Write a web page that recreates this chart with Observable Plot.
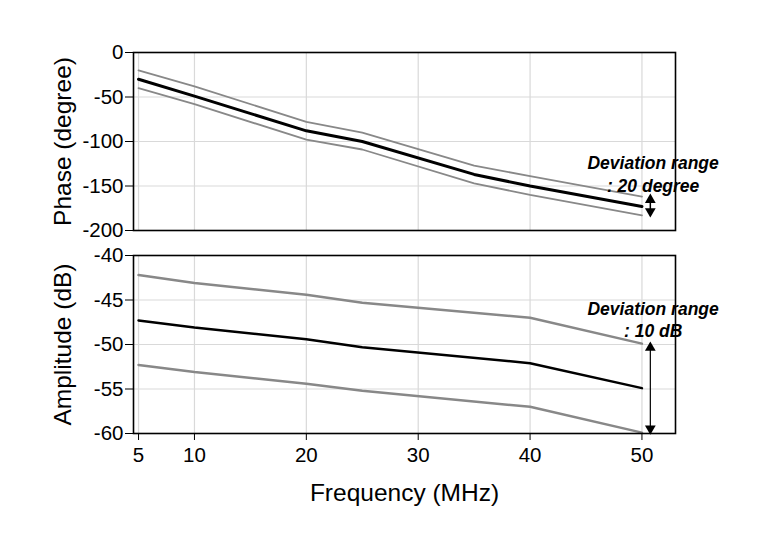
<!DOCTYPE html>
<html><head><meta charset="utf-8">
<script src="https://cdn.jsdelivr.net/npm/d3@7"></script>
<script src="https://cdn.jsdelivr.net/npm/@observablehq/plot@0.6"></script>
<style>
body{margin:0;background:#fff;font-family:"Liberation Sans",Arial,sans-serif;}
#chart{width:758px;height:544px;overflow:hidden}
#chart svg{display:block}
</style></head>
<body><div id="chart"></div>
<script>
const freqTicks = [5, 10, 20, 30, 40, 50];
// Phase (degree)
const phaseFreq = [5, 10, 20, 25, 35, 40, 50];
const phaseMid = [-30, -49, -88, -100, -137, -150, -173];
const phaseUpper = [-20, -38, -78, -90, -127, -139, -162];
const phaseLower = [-40, -58, -98, -109, -147, -160, -183];
const phaseTicks = [0, -50, -100, -150, -200];
// Amplitude (dB)
const ampFreq = [5, 10, 20, 25, 40, 50];
const ampMid = [-47.3, -48.1, -49.4, -50.3, -52.1, -54.9];
const ampUpper = [-42.2, -43.1, -44.4, -45.3, -47.0, -49.9];
const ampLower = [-52.3, -53.1, -54.4, -55.2, -57.0, -59.9];
const ampTicks = [-40, -45, -50, -55, -60];
// annotations
const phaseNote = [{x: 51, y: -125, t: "Deviation range"}, {x: 51, y: -150, t: ": 20 degree"}];
const phaseArrow = [{x: 50.75, y1: -161, y2: -183}];
const ampNote = [{x: 51, y: -46.1, t: "Deviation range"}, {x: 51, y: -48.5, t: ": 10 dB"}];
const ampArrow = [{x: 50.75, y1: -49.9, y2: -59.9}];

const toRows = (xs, ys) => xs.map((x, i) => ({x, y: ys[i]}));
const fmt = d => String(d);
const W = 758;
const xDomain = [4.55, 53];
const ML = 133, MR = 83;
const TICK_FS = 20.5, LABEL_FS = 24.5, NOTE_FS = 17.5;
const FONT = "Liberation Sans, Arial, sans-serif";

function arrowMarks(data, sw) {
  return [
    Plot.link(data, {x1: "x", x2: "x", y1: "y1", y2: "y2", stroke: "black", strokeWidth: sw}),
    Plot.dot(data, {x: "x", y: "y1", symbol: "triangle", r: 4, fill: "black", stroke: "none", dy: 4}),
    Plot.dot(data, {x: "x", y: "y2", symbol: "triangle", r: 4, fill: "black", stroke: "none", rotate: 180, dy: -4})
  ];
}

const topPlot = Plot.plot({
  width: W, height: 240,
  marginLeft: ML, marginRight: MR, marginTop: 52, marginBottom: 10,
  style: {fontFamily: FONT, fontSize: TICK_FS + "px", background: "white", color: "black", overflow: "visible"},
  x: {domain: xDomain, axis: null},
  y: {domain: [-200, 0], axis: null},
  marks: [
    Plot.gridX(freqTicks, {stroke: "#d9d9d9", strokeOpacity: 1, strokeWidth: 1.2}),
    Plot.gridY([-50, -100, -150], {stroke: "#d9d9d9", strokeOpacity: 1, strokeWidth: 1.2}),
    Plot.axisY(phaseTicks, {tickFormat: fmt, tickSize: 8, tickPadding: 2, fontSize: TICK_FS, label: "Phase (degree)", labelAnchor: "center", labelOffset: 80, labelArrow: "none"}),
    Plot.line(toRows(phaseFreq, phaseUpper), {x: "x", y: "y", stroke: "#888", strokeWidth: 1.8}),
    Plot.line(toRows(phaseFreq, phaseLower), {x: "x", y: "y", stroke: "#888", strokeWidth: 1.8}),
    Plot.line(toRows(phaseFreq, phaseMid), {x: "x", y: "y", stroke: "black", strokeWidth: 3}),
    ...arrowMarks(phaseArrow, 1.5),
    Plot.text(phaseNote, {x: "x", y: "y", text: "t", fontSize: NOTE_FS, fontWeight: "bold", fontStyle: "italic", textAnchor: "middle", fill: "black"}),
    Plot.frame({stroke: "black", strokeWidth: 1.6})
  ]
});

const bottomPlot = Plot.plot({
  width: W, height: 304,
  marginLeft: ML, marginRight: MR, marginTop: 15, marginBottom: 111,
  style: {fontFamily: FONT, fontSize: TICK_FS + "px", background: "white", color: "black", overflow: "visible"},
  x: {domain: xDomain},
  y: {domain: [-60, -40]},
  marks: [
    Plot.gridX(freqTicks, {stroke: "#d9d9d9", strokeOpacity: 1, strokeWidth: 1.2}),
    Plot.gridY([-45, -50, -55], {stroke: "#d9d9d9", strokeOpacity: 1, strokeWidth: 1.2}),
    Plot.axisY(ampTicks, {tickFormat: fmt, tickSize: 8, tickPadding: 2, fontSize: TICK_FS, label: "Amplitude (dB)", labelAnchor: "center", labelOffset: 80, labelArrow: "none"}),
    Plot.axisX(freqTicks, {tickFormat: fmt, tickSize: 7, tickPadding: 7, fontSize: TICK_FS, label: "Frequency (MHz)", labelAnchor: "center", labelOffset: 67, labelArrow: "none"}),
    Plot.line(toRows(ampFreq, ampUpper), {x: "x", y: "y", stroke: "#888", strokeWidth: 2.5}),
    Plot.line(toRows(ampFreq, ampLower), {x: "x", y: "y", stroke: "#888", strokeWidth: 2.5}),
    Plot.line(toRows(ampFreq, ampMid), {x: "x", y: "y", stroke: "black", strokeWidth: 2.5}),
    ...arrowMarks(ampArrow, 1.2),
    Plot.text(ampNote, {x: "x", y: "y", text: "t", fontSize: NOTE_FS, fontWeight: "bold", fontStyle: "italic", textAnchor: "middle", fill: "black"}),
    Plot.frame({stroke: "black", strokeWidth: 1.6})
  ]
});

const el = document.getElementById("chart");
el.appendChild(topPlot);
el.appendChild(bottomPlot);
for (const svg of [topPlot, bottomPlot]) {
  svg.querySelectorAll("[aria-label$='axis label'] text").forEach(t => t.setAttribute("font-size", LABEL_FS));
}
</script></body></html>
